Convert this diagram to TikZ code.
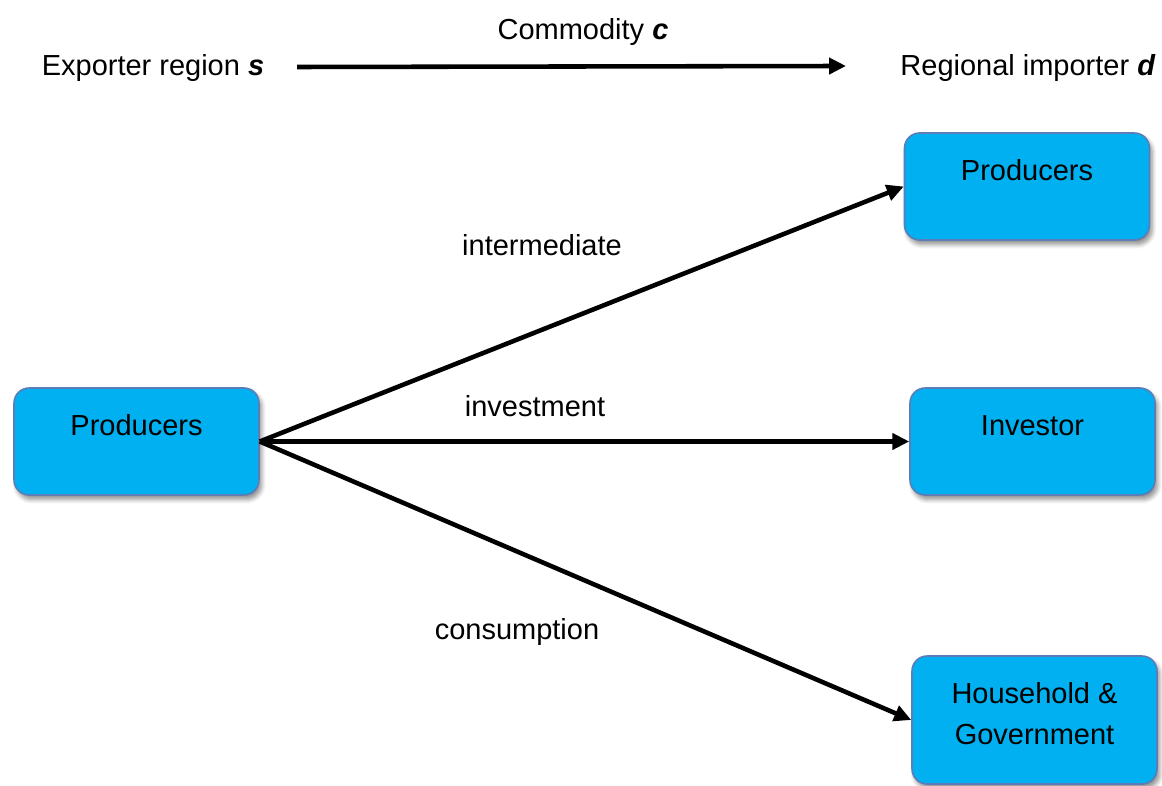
\documentclass[tikz,border=0pt]{standalone}
\usepackage{fontspec}
\setmainfont{Liberation Sans}
\usetikzlibrary{arrows.meta,shadows.blur,calc}
\definecolor{boxfill}{HTML}{00B0F0}
\definecolor{boxline}{HTML}{5B7DB8}
\tikzset{
  txt/.style={font=\fontsize{16.5}{23.3}\selectfont, inner sep=0pt, anchor=base},
  agent/.style={draw=boxline, line width=0.9pt, fill=boxfill, rounded corners=0.3cm,
    minimum width=4.9cm, minimum height=2.14cm, inner sep=0pt,
    font=\fontsize{16.5}{23.3}\selectfont, align=center,
    blur shadow={shadow xshift=1.5pt, shadow yshift=-2.5pt, shadow blur steps=6,
      shadow blur radius=2.5pt, shadow opacity=45}},
  onerow/.style={text height=0.42cm, text depth=0.64cm},
  flow/.style={line width=2.6pt, -{Triangle[length=0.34cm,width=0.32cm]}}
}
\begin{document}
\begin{tikzpicture}[x=0.02cm,y=-0.02cm]
  \useasboundingbox (0,0) rectangle (1162,786);

  % header: direction of trade
  \node[txt] (exp) at (153,76) {Exporter region \textbf{\textit{s}}};
  \node[txt] (imp) at (1028,76) {Regional importer \textbf{\textit{d}}};
  \node[txt] (com) at (583,40) {Commodity \textbf{\textit{c}}};
  \coordinate (tradeA) at (297,67);
  \coordinate (tradeB) at (846,66);
  \draw[flow] (tradeA) -- (tradeB);

  % agents
  \node[agent, onerow] (src) at (136.5,441.5) {Producers};
  \node[agent, onerow] (prod) at (1027,186.5) {Producers};
  \node[agent, onerow] (inv) at (1032.5,441.5) {Investor};
  \node[agent, minimum height=2.56cm, text height=1.3cm, text depth=0.32cm]
    (hh) at (1034.5,720) {Household \&\\Government};

  % flows by use
  \draw[flow] (src.east) -- (prod.west);
  \draw[flow] (src.east) -- (inv.west);
  \draw[flow] (src.east) -- (hh.west);

  \node[txt] (lint) at (542,256) {intermediate};
  \node[txt] (linv) at (535,417) {investment};
  \node[txt] (lcon) at (517,639) {consumption};
\end{tikzpicture}
\end{document}
